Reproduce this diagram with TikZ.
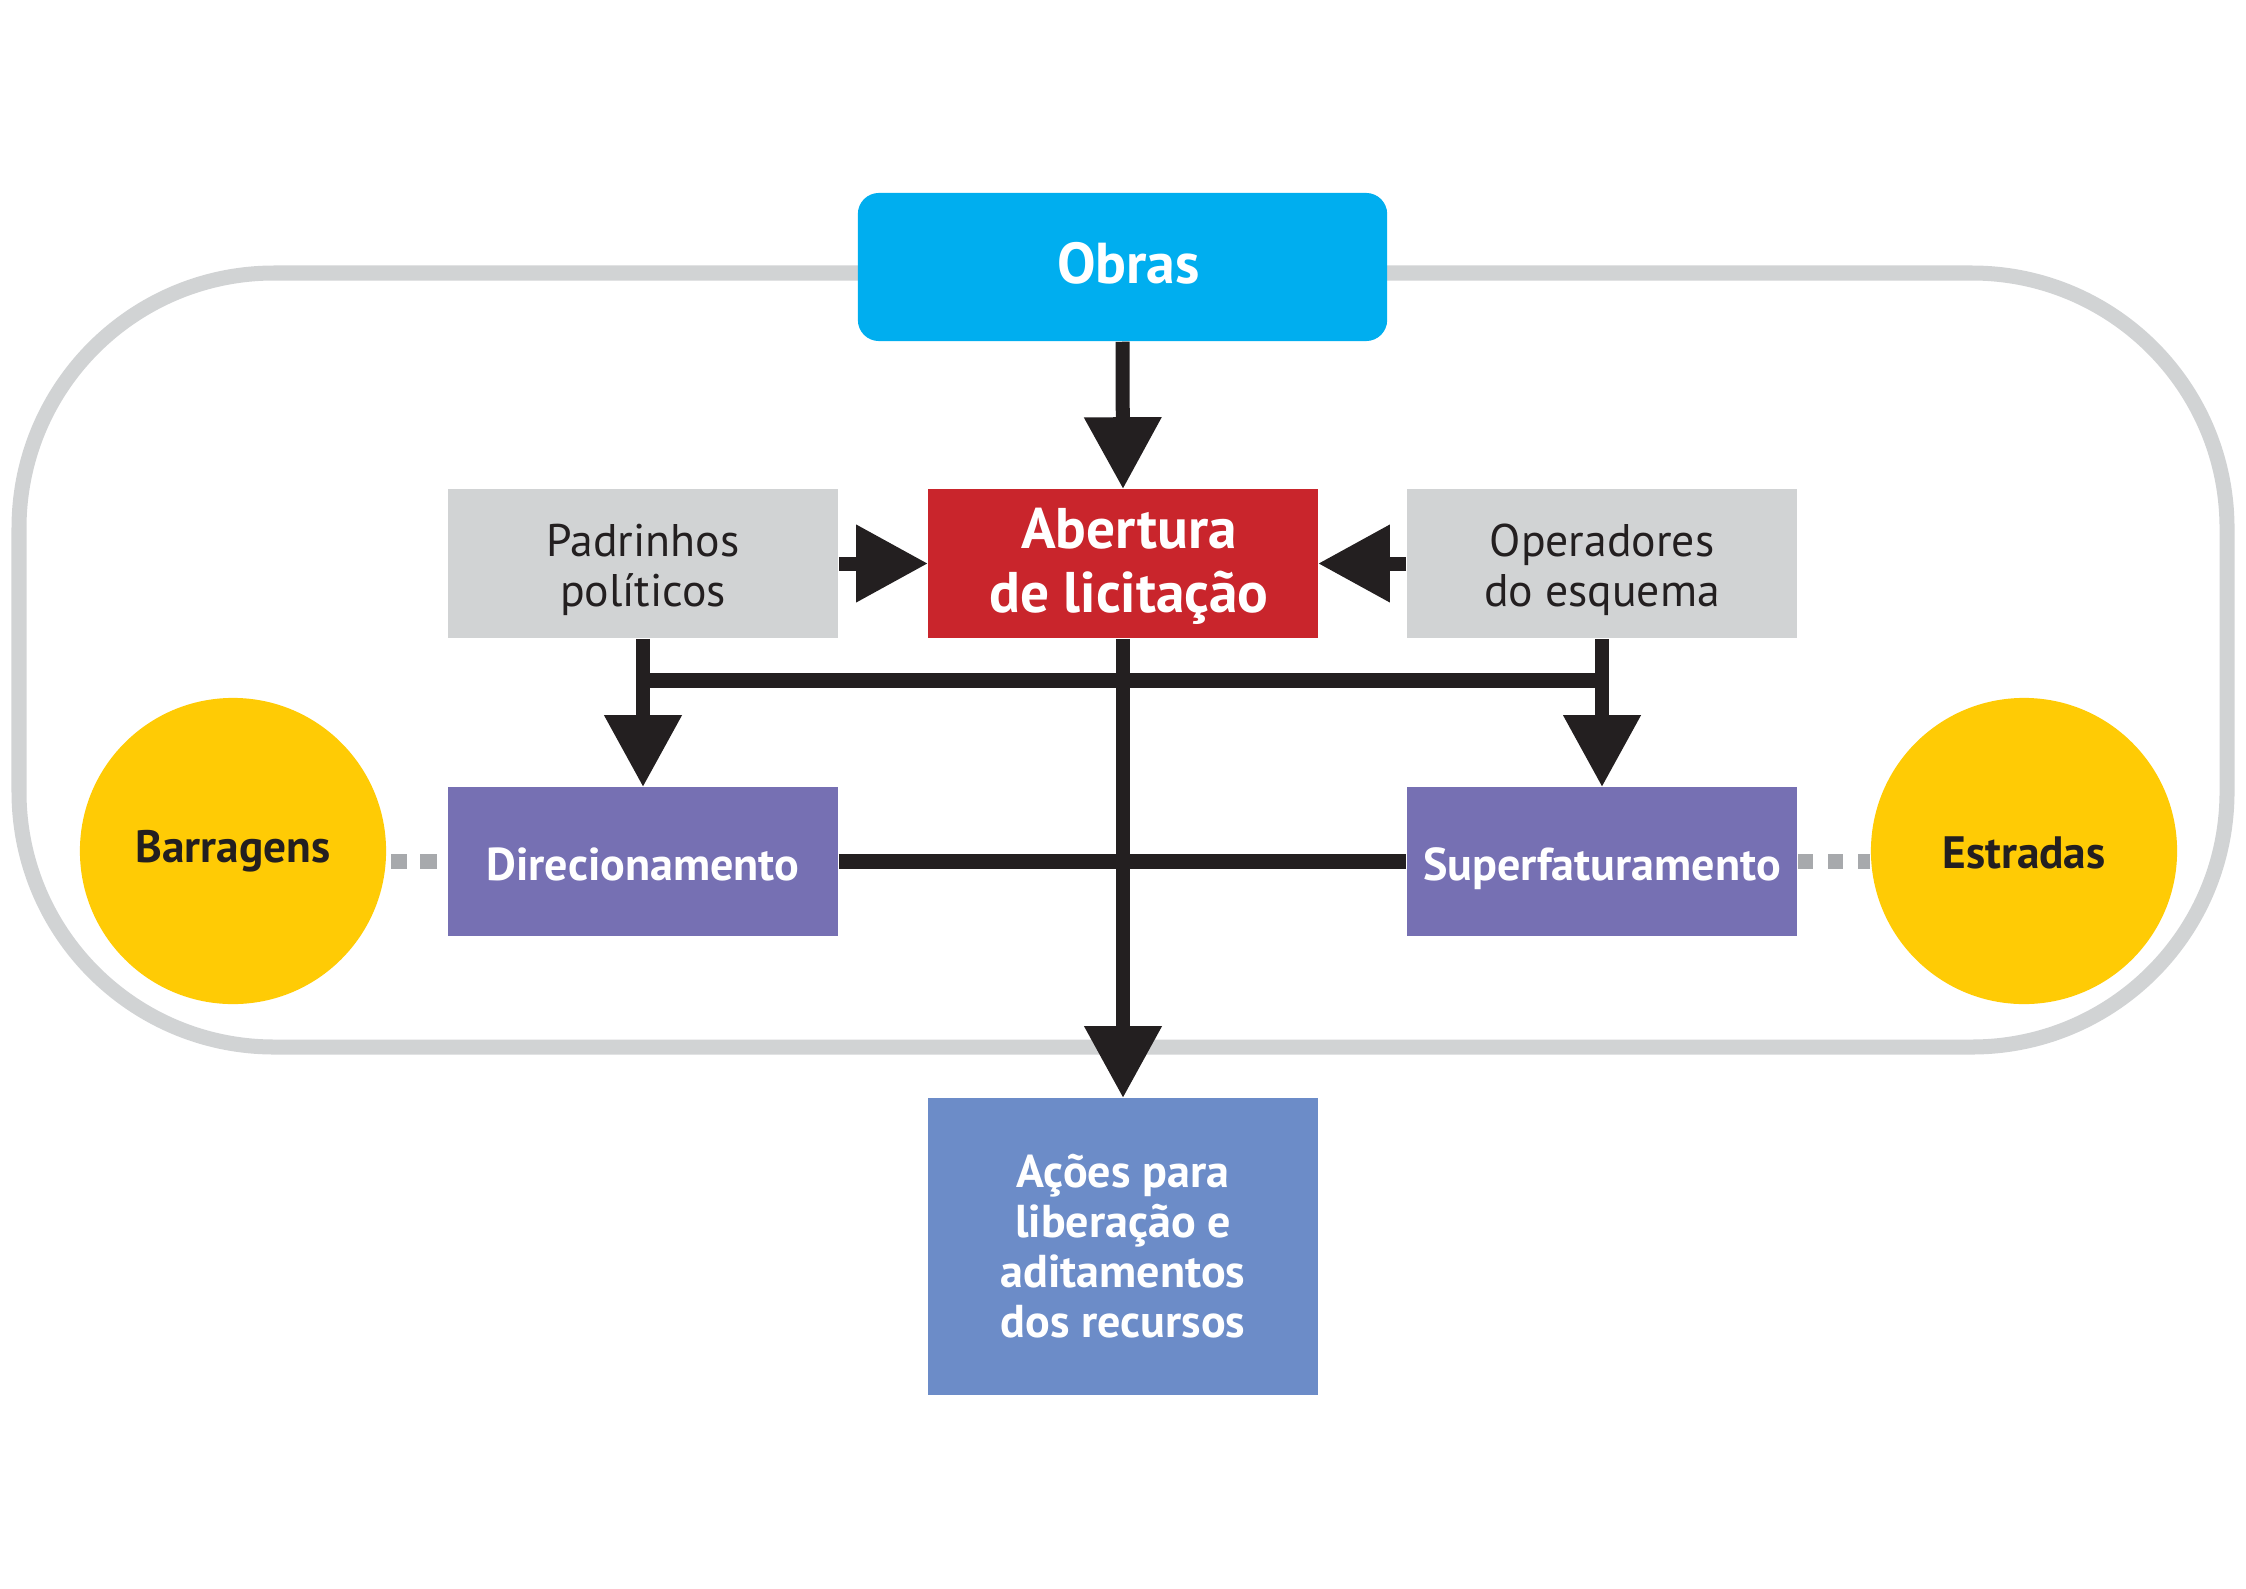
\documentclass[tikz,border=0pt]{standalone}
\usepackage{fontspec}
\setmainfont{PT Sans}
\usetikzlibrary{arrows.meta}
\definecolor{cyanb}{HTML}{00AEEF}
\definecolor{redb}{HTML}{C9252C}
\definecolor{greyb}{HTML}{D1D3D4}
\definecolor{purpb}{HTML}{7670B3}
\definecolor{yellb}{HTML}{FFCB05}
\definecolor{blueb}{HTML}{6C8CC8}
\definecolor{darkb}{HTML}{231F20}
\definecolor{dotb}{HTML}{A7A9AC}
\tikzset{
  boxbase/.style={rectangle, inner sep=0pt, minimum width=3.9cm, minimum height=1.49cm, align=center},
  boxw/.style={boxbase, text=white, font=\bfseries\fontsize{13.1}{14.2}\selectfont},
  single/.style={text height=0.37cm, text depth=0pt},
  greybox/.style={boxbase, fill=greyb},
  greytext/.style={inner sep=0pt, align=center, text=darkb, font=\fontsize{13}{14.2}\selectfont},
  circ/.style={circle, fill=yellb, inner sep=0pt, minimum size=3.06cm, text=darkb, text depth=0pt, font=\bfseries\fontsize{12.9}{14.2}\selectfont},
  arr/.style={draw=darkb, line width=0.14cm, -{Triangle[length=0.71cm, width=0.78cm, line width=0pt]}},
  conn/.style={draw=darkb, line width=0.15cm},
  track/.style={draw=greyb, line width=0.15cm, rounded corners=2.55cm},
  dots/.style={draw=dotb, line width=0.15cm}
}
\begin{document}
\begin{tikzpicture}[x=0.01cm, y=-0.01cm]
\useasboundingbox (0,0) rectangle (2246,1588);
\draw[track] (19,273) rectangle (2227,1047);
\node[boxbase, fill=cyanb, rounded corners=0.21cm, minimum width=5.29cm, minimum height=1.48cm] (obras) at (1122.5,267) {};
\node[inner sep=0pt, text=white, text height=0.32cm, text depth=0pt, font=\bfseries\fontsize{16.4}{18}\selectfont] (obrasT) at ([xshift=0.06cm]obras.center) {Obras};
\node[boxbase, fill=redb] (abert) at (1123,563.5) {};
\node[inner sep=0pt, align=center, text=white, font=\bfseries\fontsize{16.3}{18.2}\selectfont] (abertT) at ([xshift=0.06cm,yshift=-0.03cm]abert.center) {Abertura\\de licitação};
\node[greybox] (padr) at (643,563.5) {};
\node[greytext] (padrT) at ([yshift=-0.06cm]padr.center) {Padrinhos\\políticos};
\node[greybox] (oper) at (1602,563.5) {};
\node[greytext] (operT) at ([yshift=-0.06cm]oper.center) {Operadores\\do esquema};
\node[boxw, single, fill=purpb] (direc) at (643,861.5) {Direcionamento};
\node[boxw, single, fill=purpb] (super) at (1602,861.5) {Superfaturamento};
\node[boxw, fill=blueb, minimum height=2.97cm] (acoes) at (1123,1246.5) {Ações para\\liberação e\\aditamentos\\dos recursos};
\node[circ, text height=0.22cm] (barr) at (233,851) {Barragens};
\node[circ, text height=0.34cm] (estr) at (2024,851) {Estradas};
\coordinate (bar) at (0,680);
% connectors
\draw[conn] (padr.south |- bar) -- (oper.south |- bar);
\draw[conn] (direc.east) -- (super.west);
\draw[arr] (obras.south) -- (abert.north);
\draw[arr] (padr.east) -- (abert.west);
\draw[arr] (oper.west) -- (abert.east);
\draw[arr] (padr.south) -- (direc.north);
\draw[arr] (oper.south) -- (super.north);
\draw[arr] (abert.south) -- (acoes.north);
\draw[dots, dash pattern=on 0.165cm off 0.13cm] ([xshift=0.04cm]barr.east |- direc.west) -- (direc.west);
\draw[dots, dash pattern=on 0.15cm off 0.15cm] (super.east) -- (estr.west |- super.east);
\end{tikzpicture}
\end{document}
